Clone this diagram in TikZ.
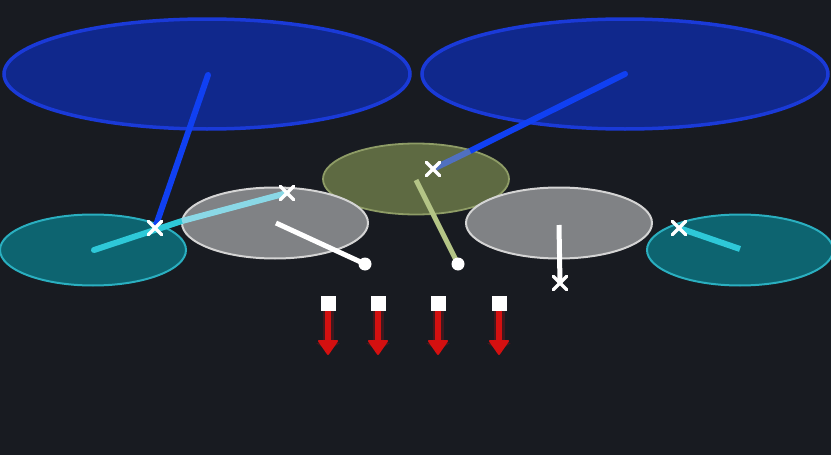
\documentclass[tikz,border=0pt]{standalone}
\usetikzlibrary{shapes.geometric,shapes.misc,arrows.meta}
\definecolor{bg}{HTML}{181B21}
\definecolor{bluefill}{HTML}{10288C}
\definecolor{bluestroke}{HTML}{1A3AD8}
\definecolor{blueline}{HTML}{1040F2}
\definecolor{bluemuted}{HTML}{5070C0}
\definecolor{olivefill}{HTML}{5E6A42}
\definecolor{olivestroke}{HTML}{8E9C66}
\definecolor{oliveline}{HTML}{B4C486}
\definecolor{grayfill}{HTML}{808285}
\definecolor{graystroke}{HTML}{D4D4D4}
\definecolor{tealfill}{HTML}{0D6470}
\definecolor{tealstroke}{HTML}{2AAFC0}
\definecolor{cyanline}{HTML}{2EC8D8}
\definecolor{cyanlight}{HTML}{8AD8E6}
\definecolor{redarrow}{HTML}{D41010}
\tikzset{
  bigell/.style={ellipse, inner sep=0pt, minimum width=406pt, minimum height=110pt, fill=bluefill, draw=bluestroke, line width=3.5pt},
  midell/.style={ellipse, inner sep=0pt, minimum width=186pt, minimum height=71pt},
  oliveell/.style={midell, fill=olivefill, draw=olivestroke, line width=1.8pt},
  grayell/.style={midell, fill=grayfill, draw=graystroke, line width=2pt},
  tealell/.style={midell, fill=tealfill, draw=tealstroke, line width=2pt},
  arm/.style={line width=6pt},
  xmark/.style={cross out, draw=white, line width=3.4pt, minimum size=10pt, inner sep=0pt, line cap=round},
  dot/.style={circle, fill=white, minimum size=13pt, inner sep=0pt},
  sq/.style={rectangle, fill=white, minimum size=15pt, inner sep=0pt},
  glow/.style={draw=redarrow, line width=11pt, opacity=0.22},
  shaft/.style={draw=redarrow, line width=6.5pt},
  head/.style={fill=redarrow, draw=redarrow, line width=2pt, line join=round},
}
\begin{document}
\begin{tikzpicture}[x=1pt,y=-1pt]
\fill[bg] (0,0) rectangle (831,455);
\useasboundingbox (0,0) rectangle (831,455);
% big blue ellipses
\node[bigell] (b1) at (207,74) {};
\node[bigell] (b2) at (625,74) {};
% olive
\node[oliveell] (ol) at (416,179) {};
% gray
\node[grayell] (g1) at (275,223) {};
\node[grayell] (g2) at (559,223) {};
% teal
\node[tealell] (t1) at (93,250) {};
\node[tealell] (t2) at (740,250) {};
% coordinates
\coordinate (b1c) at (208,75);
\coordinate (b2c) at (625,74);
\coordinate (olc) at (416,180);
\coordinate (g1c) at (276,223);
\coordinate (g2c) at (559,225);
\coordinate (t1c) at (94,250);
\coordinate (t2c) at (740,249);
\coordinate (j1) at (155,228);
\coordinate (j2) at (287,193);
\coordinate (j3) at (433,169);
\coordinate (j4) at (679,228);
\coordinate (j5) at (560,283);
\coordinate (e1) at (182,221);
\coordinate (e2) at (470,151);
\coordinate (p1) at (365,264);
\coordinate (p2) at (458,264);
% arms
\draw[arm, blueline, line cap=round] (b1c) -- (j1);
\draw[arm, blueline, line cap=round] (b2c) -- (e2);
\draw[arm, bluemuted] (e2) -- (j3);
\draw[arm, cyanline, line cap=round] (t1c) -- (e1);
\draw[arm, cyanlight] (e1) -- (j2);
\draw[arm, white, line width=5pt] (g1c) -- (p1);
\draw[arm, oliveline, line width=5pt] (olc) -- (p2);
\draw[arm, white, line width=5pt] (g2c) -- (j5);
\draw[arm, cyanline] (t2c) -- (j4);
% markers
\node[xmark] (x1) at (j1) {};
\node[xmark] (x2) at (j2) {};
\node[xmark] (x3) at (j3) {};
\node[xmark] (x4) at (j4) {};
\node[xmark] (x5) at (j5) {};
\node[dot] (d1) at (p1) {};
\node[dot] (d2) at (p2) {};
% red arrows
\foreach \i/\xx in {1/328,2/378,3/438,4/499}{
  \coordinate (top\i) at (\xx,311);
  \coordinate (a\i) at (\xx,341);
  \coordinate (h\i) at (\xx,354);
  \draw[glow] (top\i) -- (a\i);
  \fill[redarrow, opacity=0.22] ([xshift=-12pt,yshift=-2pt]a\i) -- ([xshift=12pt,yshift=-2pt]a\i) -- ([yshift=3pt]h\i) -- cycle;
  \node[sq] (s\i) at (\xx,303) {};
  \draw[shaft] (s\i.south) -- (a\i);
  \draw[head] ([xshift=-9pt]a\i) -- ([xshift=9pt]a\i) -- (h\i) -- cycle;
}
\end{tikzpicture}
\end{document}
